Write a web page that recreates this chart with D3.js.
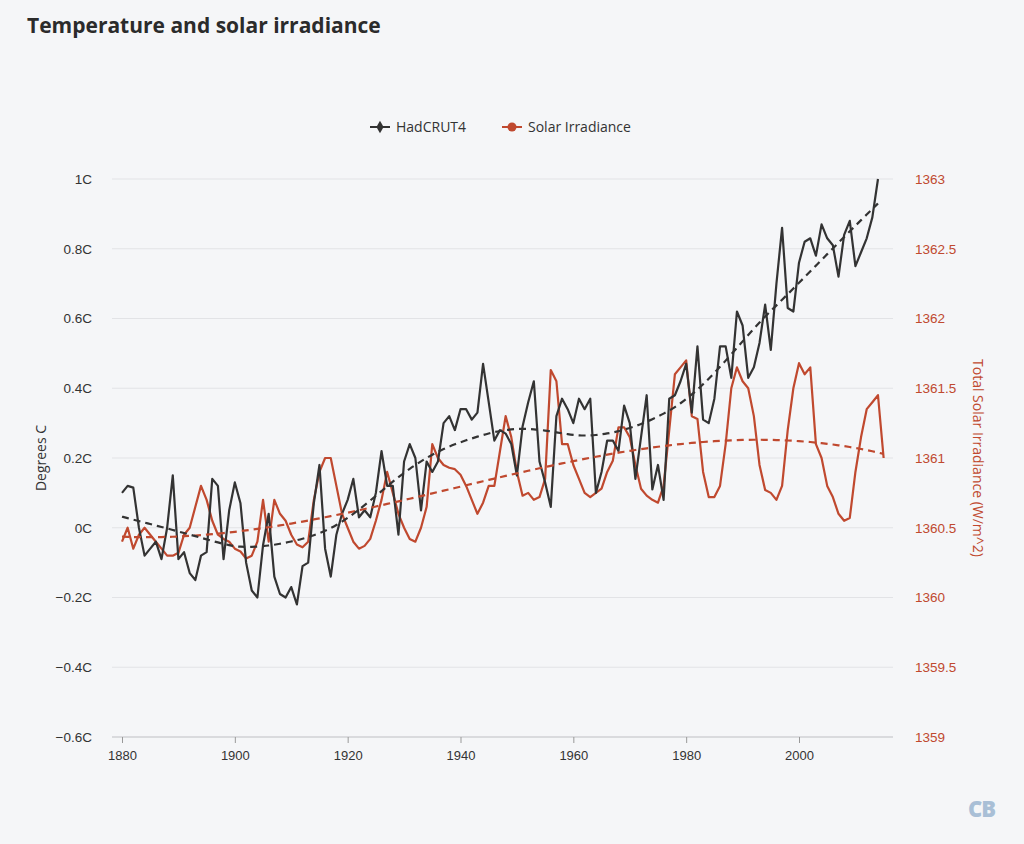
<!DOCTYPE html>
<html>
<head>
<meta charset="utf-8">
<script src="https://cdn.jsdelivr.net/npm/d3@7"></script>
<style>
  body { margin: 0; background: #f5f6f8; font-family: "Open Sans", "Noto Sans", sans-serif; }
  svg { display: block; }
</style>
</head>
<body>
<svg id="chart" width="1024" height="844"></svg>
<script>
"use strict";

var startYear = 1880;
// HadCRUT4, degrees C
var hadcrut = [
  0.10, 0.12, 0.115, 0.00, -0.08, -0.06, -0.04, -0.09, 0.00, 0.15,
  -0.09, -0.07, -0.13, -0.15, -0.08, -0.07, 0.14, 0.12, -0.09, 0.05,
  0.13, 0.07, -0.10, -0.18, -0.20, -0.05, 0.04, -0.14, -0.19, -0.20,
  -0.17, -0.22, -0.11, -0.10, 0.07, 0.18, -0.06, -0.14, -0.02, 0.04,
  0.08, 0.14, 0.03, 0.05, 0.03, 0.10, 0.22, 0.12, 0.12, -0.02,
  0.19, 0.24, 0.20, 0.05, 0.19, 0.16, 0.19, 0.30, 0.32, 0.28,
  0.34, 0.34, 0.31, 0.33, 0.47, 0.36, 0.25, 0.28, 0.27, 0.24,
  0.15, 0.29, 0.36, 0.42, 0.19, 0.13, 0.06, 0.32, 0.37, 0.34,
  0.30, 0.37, 0.34, 0.37, 0.10, 0.16, 0.25, 0.25, 0.22, 0.35,
  0.30, 0.14, 0.26, 0.38, 0.11, 0.18, 0.08, 0.37, 0.38, 0.42,
  0.47, 0.33, 0.52, 0.31, 0.30, 0.37, 0.52, 0.52, 0.43, 0.62,
  0.58, 0.43, 0.46, 0.53, 0.64, 0.51, 0.70, 0.86, 0.63, 0.62,
  0.76, 0.82, 0.83, 0.78, 0.87, 0.83, 0.81, 0.72, 0.84, 0.88,
  0.75, 0.79, 0.83, 0.89, 1.00
];
// Total solar irradiance, W/m^2
var solar = [
  1360.40, 1360.50, 1360.35, 1360.45, 1360.50, 1360.45, 1360.40, 1360.35, 1360.30, 1360.30,
  1360.32, 1360.45, 1360.50, 1360.65, 1360.80, 1360.70, 1360.55, 1360.45, 1360.42, 1360.40,
  1360.35, 1360.33, 1360.28, 1360.30, 1360.40, 1360.70, 1360.40, 1360.70, 1360.60, 1360.55,
  1360.45, 1360.38, 1360.36, 1360.40, 1360.70, 1360.90, 1361.00, 1361.00, 1360.80, 1360.60,
  1360.50, 1360.40, 1360.35, 1360.37, 1360.42, 1360.55, 1360.70, 1360.90, 1360.75, 1360.60,
  1360.50, 1360.42, 1360.40, 1360.50, 1360.65, 1361.10, 1361.00, 1360.95, 1360.93, 1360.92,
  1360.88, 1360.80, 1360.70, 1360.60, 1360.68, 1360.80, 1360.80, 1361.05, 1361.30, 1361.15,
  1360.90, 1360.73, 1360.75, 1360.70, 1360.72, 1360.85, 1361.63, 1361.55, 1361.10, 1361.10,
  1360.95, 1360.85, 1360.75, 1360.72, 1360.75, 1360.78, 1360.90, 1360.98, 1361.22, 1361.22,
  1361.15, 1360.95, 1360.78, 1360.73, 1360.70, 1360.68, 1360.80, 1361.20, 1361.60, 1361.65,
  1361.70, 1361.30, 1361.28, 1360.90, 1360.72, 1360.72, 1360.80, 1361.10, 1361.50, 1361.65,
  1361.55, 1361.50, 1361.30, 1360.95, 1360.77, 1360.75, 1360.70, 1360.80, 1361.20, 1361.50,
  1361.68, 1361.60, 1361.65, 1361.10, 1361.00, 1360.80, 1360.72, 1360.60, 1360.55, 1360.57,
  1360.90, 1361.15, 1361.35, 1361.40, 1361.45, 1361.00
];
var xTicks = [1880, 1900, 1920, 1940, 1960, 1980, 2000];
var leftTicks = [-0.6, -0.4, -0.2, 0, 0.2, 0.4, 0.6, 0.8, 1];
var rightTicks = [1359, 1359.5, 1360, 1360.5, 1361, 1361.5, 1362, 1362.5, 1363];

var dark = "#333333", red = "#c0492f", grid = "#e2e3e6";

var svg = d3.select("#chart");
var x = d3.scaleLinear().domain([1880, 2000]).range([122, 799]);
var yL = d3.scaleLinear().domain([-0.6, 1]).range([737, 179]);
var yR = d3.scaleLinear().domain([1359, 1363]).range([737, 179]);

// least-squares polynomial fit
function polyfit(vals, degree) {
    var n = vals.length, m = degree + 1;
    var t = vals.map(function(v, i) { return (i - (n - 1) / 2) / (n / 2); });
    var A = [], i, j, k;
    for (i = 0; i < m; i++) {
        A.push([]);
        for (j = 0; j <= m; j++) A[i].push(0);
    }
    for (k = 0; k < n; k++) {
        for (i = 0; i < m; i++) {
            for (j = 0; j < m; j++) A[i][j] += Math.pow(t[k], i + j);
            A[i][m] += vals[k] * Math.pow(t[k], i);
        }
    }
    for (i = 0; i < m; i++) {
        var p = i;
        for (j = i + 1; j < m; j++) if (Math.abs(A[j][i]) > Math.abs(A[p][i])) p = j;
        var tmp = A[i]; A[i] = A[p]; A[p] = tmp;
        for (j = i + 1; j < m; j++) {
            var f = A[j][i] / A[i][i];
            for (k = i; k <= m; k++) A[j][k] -= f * A[i][k];
        }
    }
    var c = new Array(m);
    for (i = m - 1; i >= 0; i--) {
        var s = A[i][m];
        for (j = i + 1; j < m; j++) s -= A[i][j] * c[j];
        c[i] = s / A[i][i];
    }
    return t.map(function(tt) {
        var s = 0;
        for (var q = 0; q < m; q++) s += c[q] * Math.pow(tt, q);
        return s;
    });
}

// local linear (loess) smooth with tricube weights
function loess(vals, span) {
    var n = vals.length, h = Math.ceil(span * n);
    return vals.map(function(v, i) {
        var dists = vals.map(function(d, j) { return Math.abs(j - i); }).sort(function(a, b) { return a - b; });
        var maxD = dists[Math.min(h, n - 1)] + 1;
        var sw = 0, sx = 0, sy = 0, sxx = 0, sxy = 0;
        for (var j = 0; j < n; j++) {
            var u = Math.abs(j - i) / maxD;
            if (u >= 1) continue;
            var w = Math.pow(1 - u * u * u, 3);
            sw += w; sx += w * j; sy += w * vals[j]; sxx += w * j * j; sxy += w * j * vals[j];
        }
        var mx = sx / sw, my = sy / sw;
        var b = (sxy / sw - mx * my) / (sxx / sw - mx * mx);
        return my + b * (i - mx);
    });
}

// title
svg.append("text").attr("x", 27).attr("y", 33)
    .attr("font-size", 21).attr("font-weight", 700).attr("fill", "#2b2b2b")
    .text("Temperature and solar irradiance");

// grid
svg.append("g").selectAll("line").data(leftTicks).join("line")
    .attr("x1", 112).attr("x2", 893)
    .attr("y1", function(d) { return yL(d); }).attr("y2", function(d) { return yL(d); })
    .attr("stroke", grid).attr("stroke-width", 1);

// axes
var xAxis = svg.append("g").attr("transform", "translate(0,737)")
    .call(d3.axisBottom(x).tickValues(xTicks).tickFormat(d3.format("d")).tickSize(6).tickSizeOuter(0));
xAxis.select(".domain").attr("stroke", "#c8c9cc").attr("d", "M112,0H893");
xAxis.selectAll(".tick line").attr("stroke", "#999");
xAxis.selectAll("text").attr("fill", dark).attr("font-size", 13).attr("dy", "1.1em");

var lAxis = svg.append("g").attr("transform", "translate(95,0)")
    .call(d3.axisLeft(yL).tickValues(leftTicks).tickSize(0)
        .tickFormat(function(d) { return d3.format(".1f")(d).replace(/\.0$/, "") + "C"; }));
lAxis.select(".domain").remove();
lAxis.selectAll("text").attr("fill", dark).attr("font-size", 13.5);

var rAxis = svg.append("g").attr("transform", "translate(912,0)")
    .call(d3.axisRight(yR).tickValues(rightTicks).tickSize(0).tickFormat(function(d) { return String(d); }));
rAxis.select(".domain").remove();
rAxis.selectAll("text").attr("fill", red).attr("font-size", 13.5);

svg.append("text").attr("transform", "translate(46,458) rotate(-90)")
    .attr("text-anchor", "middle").attr("font-size", 14).attr("fill", dark).text("Degrees C");
svg.append("text").attr("transform", "translate(973,458) rotate(90)")
    .attr("text-anchor", "middle").attr("font-size", 14).attr("fill", red).text("Total Solar Irradiance (W/m^2)");

// series
var years = hadcrut.map(function(d, i) { return startYear + i; });
var sYears = solar.map(function(d, i) { return startYear + i; });
var lineL = d3.line().curve(d3.curveBasis).x(function(d) { return x(d[0]); }).y(function(d) { return yL(d[1]); });
var lineR = d3.line().x(function(d) { return x(d[0]); }).y(function(d) { return yR(d[1]); });
var rawL = d3.line().x(function(d) { return x(d[0]); }).y(function(d) { return yL(d[1]); });

var tempFit = loess(hadcrut, 0.3);
var solarFit = polyfit(solar, 3);

svg.append("path").datum(d3.zip(sYears, solar)).attr("d", lineR)
    .attr("fill", "none").attr("stroke", red).attr("stroke-width", 2.2).attr("stroke-linejoin", "round");
svg.append("path").datum(d3.zip(years, hadcrut)).attr("d", rawL)
    .attr("fill", "none").attr("stroke", dark).attr("stroke-width", 2.2).attr("stroke-linejoin", "round");
svg.append("path").datum(d3.zip(sYears, solarFit)).attr("d", lineR)
    .attr("fill", "none").attr("stroke", red).attr("stroke-width", 2.2).attr("stroke-dasharray", "7,5");
svg.append("path").datum(d3.zip(years, tempFit)).attr("d", lineL)
    .attr("fill", "none").attr("stroke", dark).attr("stroke-width", 2.2).attr("stroke-dasharray", "7,5");

// legend
var legend = svg.append("g").attr("transform", "translate(0,127)");
legend.append("line").attr("x1", 370).attr("x2", 390).attr("stroke", dark).attr("stroke-width", 2);
legend.append("path").attr("d", d3.symbol().type(d3.symbolDiamond).size(45)()).attr("transform", "translate(380,0)").attr("fill", dark);
legend.append("text").attr("x", 396).attr("y", 5).attr("font-size", 14).attr("fill", dark).text("HadCRUT4");
legend.append("line").attr("x1", 502).attr("x2", 522).attr("stroke", red).attr("stroke-width", 2);
legend.append("circle").attr("cx", 512).attr("r", 4.5).attr("fill", red);
legend.append("text").attr("x", 528).attr("y", 5).attr("font-size", 14).attr("fill", dark).text("Solar Irradiance");

// CB mark
svg.append("text").attr("x", 968).attr("y", 817).attr("font-size", 22).attr("font-weight", 800)
    .attr("fill", "#a9bfd6").attr("letter-spacing", -1).text("CB");
</script>
</body>
</html>
